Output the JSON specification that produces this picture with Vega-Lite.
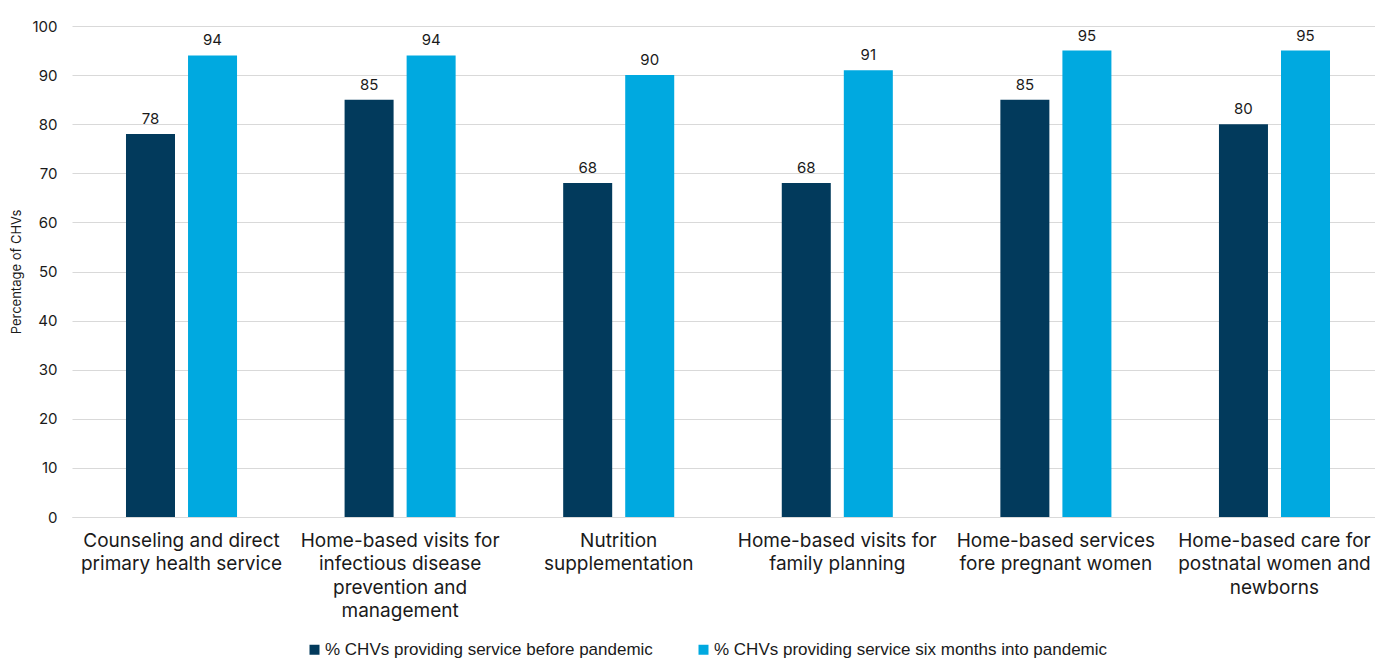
{
  "$schema": "https://vega.github.io/schema/vega-lite/v6.json",
  "width": 1312,
  "height": 491,
  "autosize": {"type": "none"},
  "padding": {"left": 72, "top": 26, "right": 0, "bottom": 141},
  "background": "white",
  "config": {
    "view": {"stroke": null},
    "font": "Inter"
  },
  "data": {
    "values": [
      {"service": "Counseling and direct|primary health service", "period": "% CHVs providing service before pandemic", "value": 78},
      {"service": "Counseling and direct|primary health service", "period": "% CHVs providing service six months into pandemic", "value": 94},
      {"service": "Home-based visits for|infectious disease|prevention and|management", "period": "% CHVs providing service before pandemic", "value": 85},
      {"service": "Home-based visits for|infectious disease|prevention and|management", "period": "% CHVs providing service six months into pandemic", "value": 94},
      {"service": "Nutrition|supplementation", "period": "% CHVs providing service before pandemic", "value": 68},
      {"service": "Nutrition|supplementation", "period": "% CHVs providing service six months into pandemic", "value": 90},
      {"service": "Home-based visits for|family planning", "period": "% CHVs providing service before pandemic", "value": 68},
      {"service": "Home-based visits for|family planning", "period": "% CHVs providing service six months into pandemic", "value": 91},
      {"service": "Home-based services|fore pregnant women", "period": "% CHVs providing service before pandemic", "value": 85},
      {"service": "Home-based services|fore pregnant women", "period": "% CHVs providing service six months into pandemic", "value": 95},
      {"service": "Home-based care for|postnatal women and|newborns", "period": "% CHVs providing service before pandemic", "value": 80},
      {"service": "Home-based care for|postnatal women and|newborns", "period": "% CHVs providing service six months into pandemic", "value": 95}
    ]
  },
  "encoding": {
    "x": {
      "field": "service",
      "type": "nominal",
      "sort": null,
      "scale": {"paddingInner": 0.492, "paddingOuter": 0.247},
      "axis": {
        "title": null,
        "labelAngle": 0,
        "labelExpr": "split(datum.label, '|')",
        "labelFont": "Inter",
        "labelFontSize": 19,
        "labelColor": "#1a1a1a",
        "labelLineHeight": 23.5,
        "labelPadding": 14,
        "labelBaseline": "top",
        "ticks": false,
        "domain": true,
        "domainColor": "#d9d9d9",
        "labelLimit": 400
      }
    },
    "xOffset": {
      "field": "period",
      "type": "nominal",
      "scale": {"paddingInner": 0.21, "paddingOuter": 0}
    },
    "y": {
      "field": "value",
      "type": "quantitative",
      "scale": {"domain": [0, 100]},
      "axis": {
        "title": "Percentage of CHVs",
        "titleFont": "Inter",
        "titleFontSize": 13,
        "titleFontWeight": "normal",
        "titleColor": "#1a1a1a",
        "titlePadding": 8,
        "values": [0, 10, 20, 30, 40, 50, 60, 70, 80, 90, 100],
        "labelFont": "Inter",
        "labelFontSize": 15,
        "labelColor": "#1a1a1a",
        "labelPadding": 15,
        "ticks": false,
        "domain": false,
        "gridColor": "#d9d9d9",
        "gridWidth": 1
      }
    }
  },
  "layer": [
    {
      "mark": {"type": "bar"},
      "encoding": {
        "color": {
          "field": "period",
          "type": "nominal",
          "scale": {"range": ["#023A5C", "#00A9E0"]},
          "legend": {
            "title": null,
            "orient": "none",
            "direction": "horizontal",
            "legendX": 234,
            "legendY": 615,
            "symbolType": "square",
            "symbolSize": 100,
            "symbolStrokeWidth": 0,
            "labelFont": "Liberation Sans",
            "labelFontSize": 17,
            "labelColor": "#1a1a1a",
            "labelOffset": 2,
            "columnPadding": 42,
            "labelLimit": 500
          }
        }
      }
    },
    {
      "mark": {"type": "text", "baseline": "bottom", "dy": -7, "fontSize": 15, "font": "Inter", "color": "#1a1a1a"},
      "encoding": {
        "text": {"field": "value", "type": "quantitative"}
      }
    }
  ]
}
